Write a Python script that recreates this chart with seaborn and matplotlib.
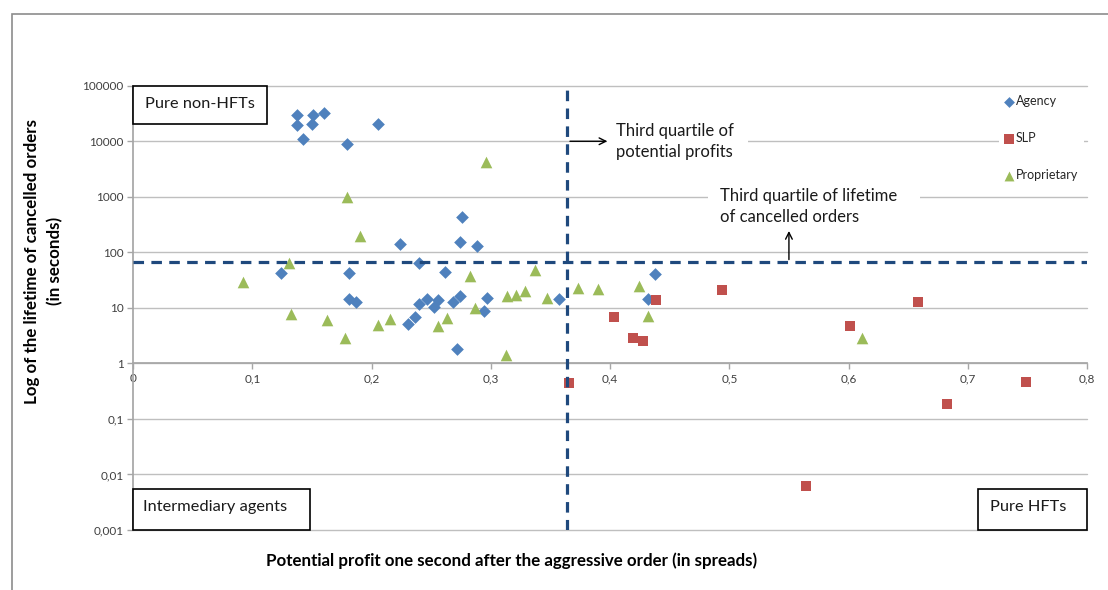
#Grafico de dispersion: beneficio potencial vs vida de ordenes canceladas

import pandas as pd
import seaborn as sns
import matplotlib.pyplot as plt
from matplotlib.patches import Rectangle

agency_x = [0.1375, 0.1375, 0.1426, 0.151, 0.1496, 0.160, 0.1796, 0.2049, 0.1235, 0.181, 0.181,
            0.1869, 0.2239, 0.2756, 0.2742, 0.2882, 0.2394, 0.2615, 0.2461, 0.2554, 0.2394, 0.252,
            0.268, 0.2744, 0.2966, 0.2941, 0.357, 0.2363, 0.2306, 0.2716, 0.4378, 0.4318]
agency_y = [29800, 19700, 11000, 29800, 20200, 32000, 8800, 20200, 42, 43, 14.4,
            12.6, 141, 427, 155, 131, 65, 43.6, 14.2, 13.8, 11.7, 10.5,
            12.9, 16.5, 14.8, 8.9, 14.3, 6.9, 5.1, 1.81, 40, 14.3]
slp_x = [0.3655, 0.4033, 0.4195, 0.428, 0.4384, 0.494, 0.601, 0.658, 0.6826, 0.749, 0.564]
slp_y = [0.45, 6.8, 2.85, 2.58, 13.7, 21, 4.7, 12.8, 0.187, 0.47, 0.0061]
prop_x = [0.1796, 0.1902, 0.1305, 0.0921, 0.1325, 0.1628, 0.1776, 0.2049, 0.296, 0.2826, 0.3367,
          0.373, 0.390, 0.4243, 0.3137, 0.3207, 0.3289, 0.3474, 0.287, 0.2155, 0.2559, 0.2632,
          0.3129, 0.432, 0.611]
prop_y = [1000, 200, 64, 29, 7.6, 6.0, 2.9, 5.0, 4290, 37, 48,
          23, 22, 24.5, 16.5, 17, 20.3, 14.8, 10, 6.2, 4.7, 6.5,
          1.41, 7.0, 2.85]

q3_profit = 0.364
q3_lifetime = 66

x_ticks = [0, 0.1, 0.2, 0.3, 0.4, 0.5, 0.6, 0.7, 0.8]
x_labels = ["0", "0,1", "0,2", "0,3", "0,4", "0,5", "0,6", "0,7", "0,8"]
y_ticks = [0.001, 0.01, 0.1, 1, 10, 100, 1000, 10000, 100000]
y_labels = ["0,001", "0,01", "0,1", "1", "10", "100", "1000", "10000", "100000"]

df = pd.DataFrame({
    "profit": agency_x + slp_x + prop_x,
    "lifetime": agency_y + slp_y + prop_y,
    "type": ["Agency"] * len(agency_x) + ["SLP"] * len(slp_x) + ["Proprietary"] * len(prop_x),
})

sns.set_theme(style="white")
plt.rcParams["font.family"] = ["Lato", "DejaVu Sans"]

colors = {"Agency": "#4F81BD", "SLP": "#C0504D", "Proprietary": "#9BBB59"}
markers = {"Agency": "D", "SLP": "s", "Proprietary": "^"}
sizes = {"Agency": 42, "SLP": 62, "Proprietary": 70}

fig = plt.figure(figsize=(11.08, 5.9), dpi=100)
ax = fig.add_axes([0.1203, 0.1017, 0.8607, 0.753])

for t in ["Agency", "SLP", "Proprietary"]:
    sns.scatterplot(data=df[df["type"] == t], x="profit", y="lifetime", color=colors[t],
                    marker=markers[t], s=sizes[t], linewidth=0, label=t, ax=ax, zorder=4)

ax.set_yscale("log")
ax.set_xlim(0, 0.8)
ax.set_ylim(0.001, 100000)
ax.set_xticks(x_ticks, x_labels)
ax.set_yticks(y_ticks, y_labels)
ax.minorticks_off()
ax.tick_params(axis="both", labelsize=8.5, labelcolor="#404040", color="#A6A6A6",
               length=4, width=1, direction="out", left=True, bottom=True, pad=3)
ax.grid(axis="y", color="#BFBFBF", linewidth=1)
ax.grid(axis="x", visible=False)
for g in ax.yaxis.get_gridlines():
    g.set_clip_on(False)
for s in ["top", "right"]:
    ax.spines[s].set_visible(False)
ax.spines["left"].set_color("#A6A6A6")
ax.spines["bottom"].set_color("#A6A6A6")
ax.spines["bottom"].set_position(("data", 1))
ax.set_xlabel("")
ax.set_ylabel("")

# lineas de cuartiles
ax.axvline(q3_profit, color="#1F497D", lw=2.3, linestyle=(0, (3.3, 2.3)), zorder=5)
ax.axhline(q3_lifetime, color="#1F497D", lw=2.3, linestyle=(0, (3.3, 2.3)), zorder=5)

# cajas de las esquinas
boxes = [((0, 0.913), 0.1405, 0.087, "Pure non-HFTs", 0.0125, 0.958),
         ((0, 0), 0.1853, 0.0923, "Intermediary agents", 0.0105, 0.052),
         ((0.8857, 0), 0.1143, 0.0923, "Pure HFTs", 0.0125, 0.052)]
for (bx, by), bw, bh, txt, tx, ty in boxes:
    ax.add_patch(Rectangle((bx, by), bw, bh, transform=ax.transAxes, facecolor="white",
                           edgecolor="black", lw=1.2, zorder=6, clip_on=False))
    ax.text(bx + tx, ty, txt, transform=ax.transAxes, fontsize=11.8, va="center",
            ha="left", color="#1a1a1a", zorder=7)

# anotaciones (fondo blanco que tapa la rejilla)
ax.add_patch(Rectangle((0.4967, 0.82), 0.148, 0.11, transform=ax.transAxes,
                       facecolor="white", edgecolor="none", zorder=3))
ax.add_patch(Rectangle((0.6025, 0.676), 0.2227, 0.11, transform=ax.transAxes,
                       facecolor="white", edgecolor="none", zorder=3))
ax.text(0.405, 10000, "Third quartile of\npotential profits", fontsize=12, color="#1a1a1a",
        va="center", ha="left", linespacing=1.4, zorder=6)
ax.annotate("", xy=(0.4, 10000), xytext=(q3_profit, 10000),
            arrowprops=dict(arrowstyle="->", color="black", lw=1), zorder=7)
ax.text(0.492, 660, "Third quartile of lifetime\nof cancelled orders", fontsize=12,
        color="#1a1a1a", va="center", ha="left", linespacing=1.4, zorder=6)
ax.annotate("", xy=(0.55, 272), xytext=(0.55, q3_lifetime),
            arrowprops=dict(arrowstyle="->", color="black", lw=1), zorder=7)

# leyenda
h, l = ax.get_legend_handles_labels()
leg = ax.legend(h, l, loc="upper left", bbox_to_anchor=(993 / 1108, 1 - 84 / 590),
                bbox_transform=fig.transFigure, fontsize=9, markerscale=0.85,
                labelspacing=2.0, handlelength=0.7, handletextpad=0.25,
                borderpad=0.4, frameon=True, fancybox=False, framealpha=1)
leg.get_frame().set_edgecolor("none")
leg.get_frame().set_facecolor("white")
leg.set_zorder(8)

fig.text(0.4615, 1 - 561 / 590, "Potential profit one second after the aggressive order (in spreads)",
         fontsize=12.2, fontweight="bold", ha="center", va="center", color="black")
fig.text(0.0395, 1 - 261 / 590, "Log of the lifetime of cancelled orders\n(in seconds)",
         fontsize=12.2, fontweight="bold", ha="center", va="center", rotation=90,
         multialignment="center", linespacing=1.5, color="black")

# borde del grafico
fig.add_artist(Rectangle((12 / 1108, -0.1), 1.1, 1.1 - 13.5 / 590, transform=fig.transFigure,
                         fill=False, edgecolor="#8C8C8C", lw=1.2))

plt.savefig("out.png", dpi=100)
